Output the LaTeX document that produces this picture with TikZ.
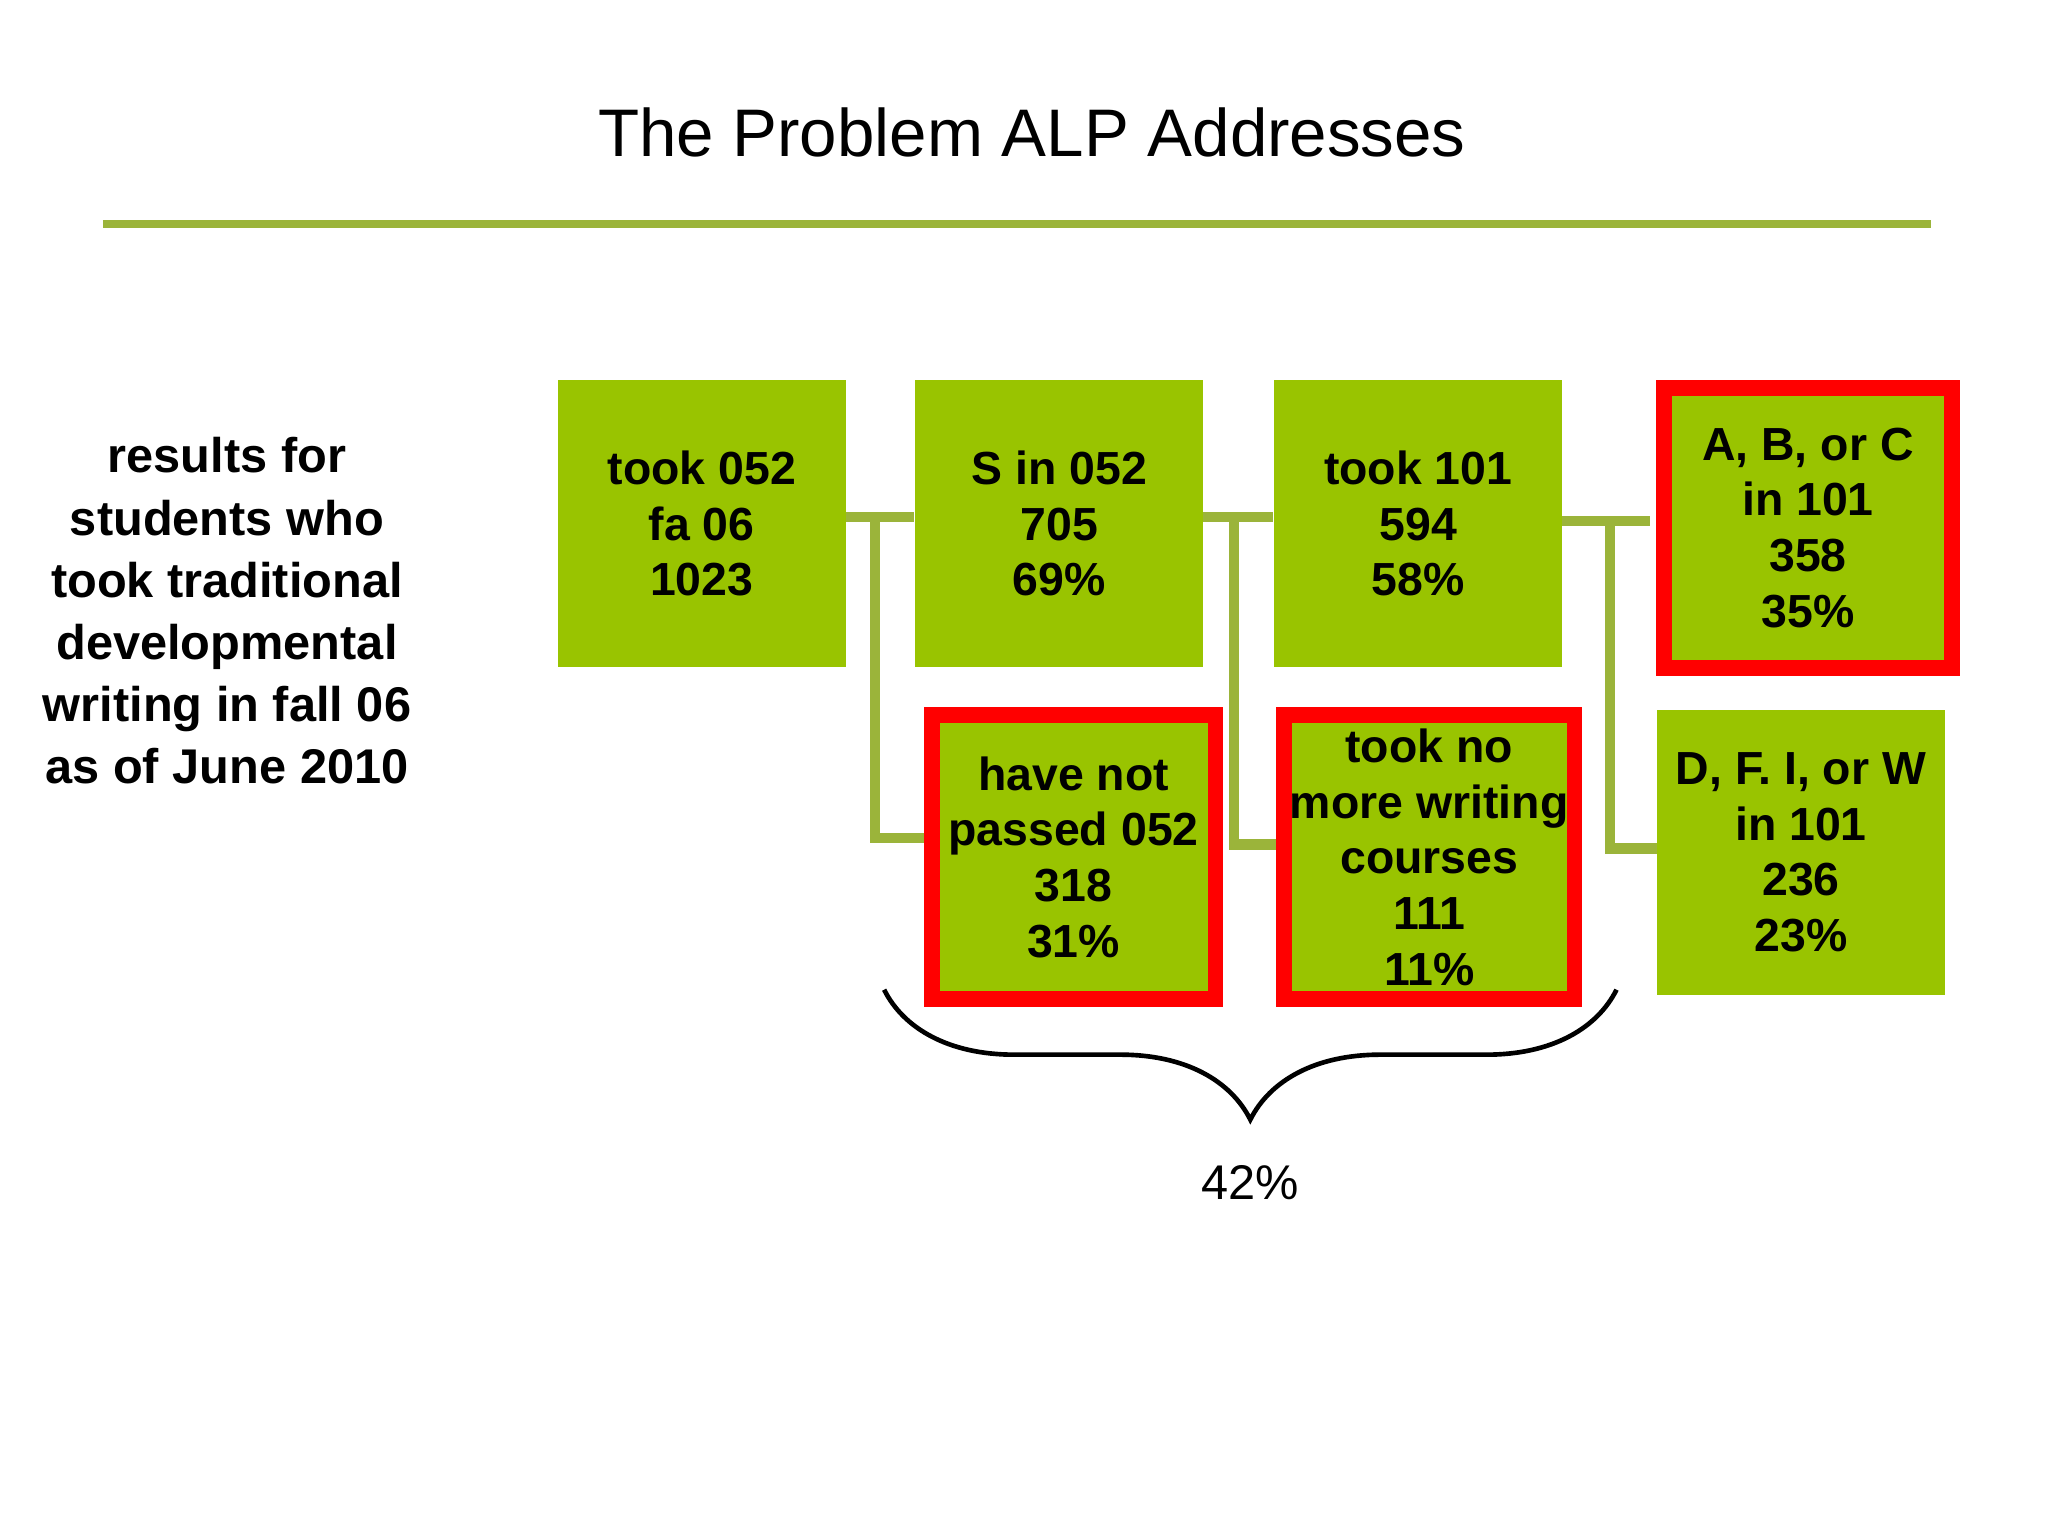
\documentclass[tikz,border=0pt]{standalone}
\usepackage{fontspec}
\setmainfont{Liberation Sans}
\usetikzlibrary{decorations.pathreplacing}
\definecolor{gbox}{HTML}{99C400}
\definecolor{gline}{HTML}{9BB43A}
\definecolor{rbord}{HTML}{FF0000}
\begin{document}
\begin{tikzpicture}[x=0.01cm,y=-0.01cm,
  box/.style={fill=gbox,draw=none,minimum width=2.18cm,minimum height=2.18cm,inner sep=0pt,font=\fontsize{10}{12}\selectfont\bfseries,align=center,anchor=north west},
  rbox/.style={box,draw=rbord,line width=3.4pt},
  conn/.style={gline,line width=2.2pt}]
\useasboundingbox (0,0) rectangle (1552,1164);
\node at (782,100) {\fontsize{14.5}{17}\selectfont The Problem ALP Addresses};
\draw[gline,line width=1.7pt] (78,170) -- (1463,170);
\node[align=center,font=\fontsize{10.5}{13.4}\selectfont\bfseries] at (172,463) {results for\\students who\\took traditional\\developmental\\writing in fall 06\\as of June 2010};
% connector coordinates
\coordinate (j1) at (663,392); \coordinate (k1) at (663,635);
\coordinate (j2) at (935,392); \coordinate (k2) at (935,640);
\coordinate (j3) at (1220,395); \coordinate (k3) at (1220,643);
\draw[conn] (617,392) -- (j1) -- (693,392);
\draw[conn] (j1) -- (k1) -- (700,635);
\draw[conn] (890,392) -- (j2) -- (965,392);
\draw[conn] (j2) -- (k2) -- (995,640);
\draw[conn] (1175,395) -- (j3) -- (1250,395);
\draw[conn] (j3) -- (k3) -- (1258,643);
\node[box] (a) at (422,287) {took 052\\fa 06\\1023};
\node[box] (b) at (693,287) {S in 052\\705\\69\%};
\node[box] (c) at (965,287) {took 101\\594\\58\%};
\node[rbox,minimum width=2.18cm,minimum height=2.12cm] (d) at (1255,288) {A, B, or C\\in 101\\358\\35\%};
\node[rbox,minimum width=2.15cm,minimum height=2.15cm] (e) at (700,536) {have not\\passed 052\\318\\31\%};
\node[rbox,minimum width=2.2cm,minimum height=2.15cm] (f) at (967,536) {took no\\more writing\\courses\\111\\11\%};
\node[box,minimum height=2.16cm] (g) at (1255,537) {D, F. I, or W\\in 101\\236\\23\%};
\draw[decorate,decoration={brace,mirror,amplitude=28pt},line width=1pt] (670,750) -- (1225,750) node[midway,below=34pt,font=\fontsize{10.5}{12}\selectfont] (p) {42\%};
\end{tikzpicture}
\end{document}
